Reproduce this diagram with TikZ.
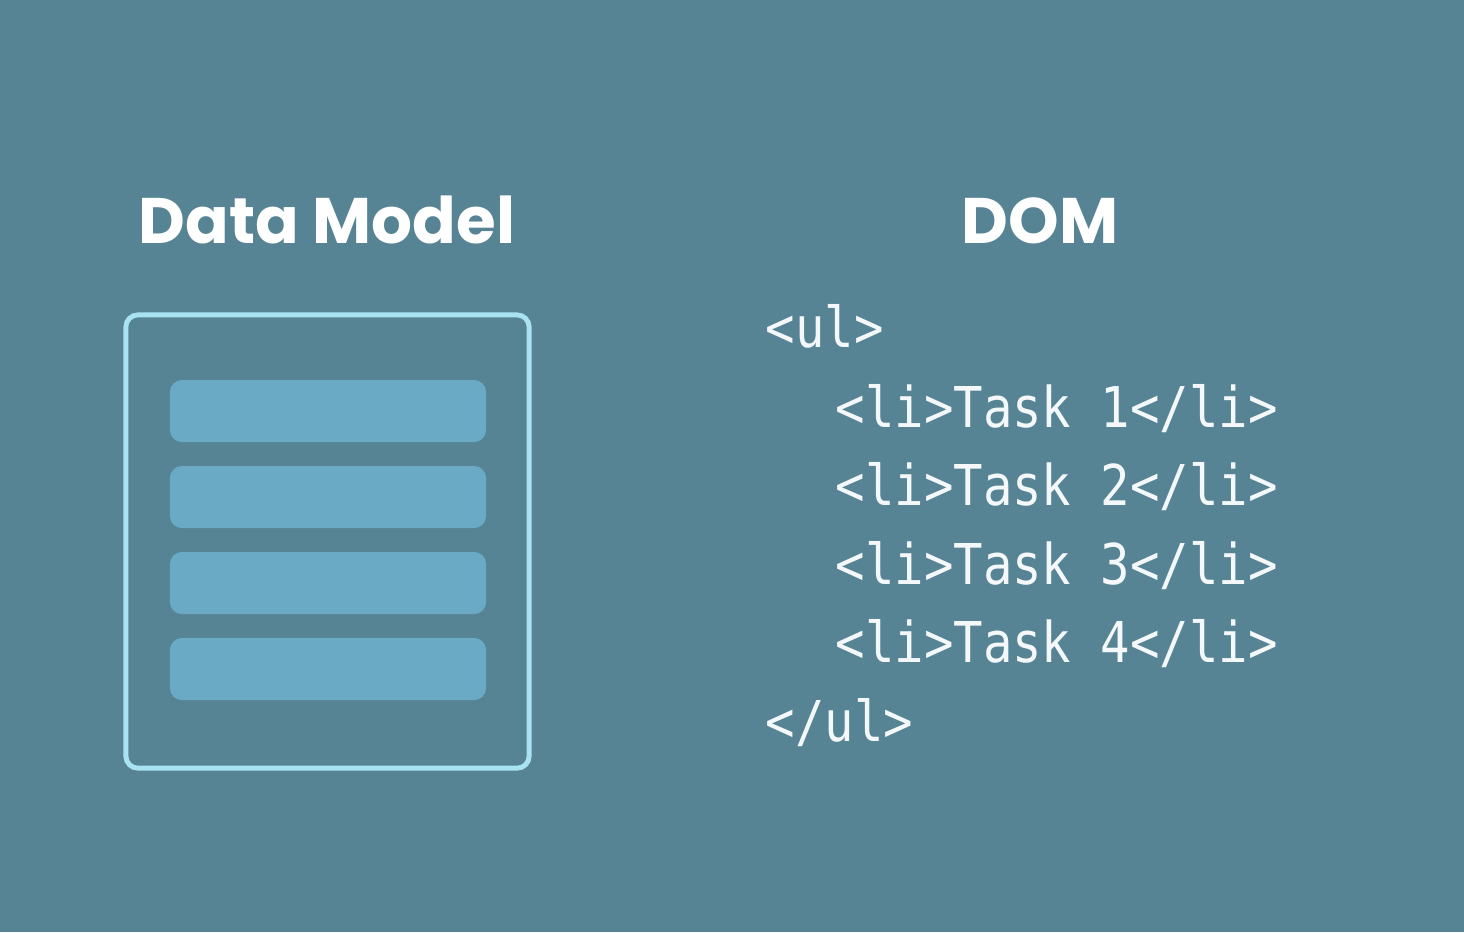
\documentclass[tikz,border=0pt]{standalone}
\usepackage{fontspec}
\newfontfamily\titlefont{Poppins}
\newfontfamily\codefont[FakeStretch=0.87]{DejaVu Sans Mono}
\usetikzlibrary{positioning}
\definecolor{bgteal}{HTML}{568494}
\definecolor{barblue}{HTML}{6AAAC4}
\definecolor{framecyan}{HTML}{A9E2F2}
\definecolor{codewhite}{HTML}{F4F8FA}

\begin{document}
\begin{tikzpicture}[x=0.01cm,y=-0.01cm,
		title/.style={text=white,font=\titlefont\bfseries\fontsize{18.3}{22}\selectfont,inner sep=0pt,anchor=base},
		bar/.style={fill=barblue,rounded corners=0.12cm,minimum width=3.16cm,minimum height=0.62cm,inner sep=0pt},
		codeline/.style={text=codewhite,font=\codefont\fontsize{16}{19}\selectfont,inner sep=0pt,anchor=base west}]
		% background
		\fill[bgteal] (0,0) rectangle (1464,932);
		\useasboundingbox (0,0) rectangle (1464,932);
		% headings
		\node[title] (modeltitle) at (327,243) {Data Model};
		\node[title] (domtitle) at (1040,243) {DOM};
		% data model: frame with four rows
		\node[draw=framecyan,line width=1.4pt,rounded corners=0.12cm,minimum width=4.03cm,minimum height=4.53cm,inner sep=0pt] (model) at (327.5,541.5) {};
		\foreach \i in {1,...,4}{
			\node[bar] (bar\i) at (328,{411+86*(\i-1)}) {};
		}
		% dom markup
		\node[codeline] (ulopen) at (765,347) {<ul>};
		\foreach \i in {1,...,4}{
			\node[codeline] (task\i) at (835,{427+78.5*(\i-1)}) {<li>Task \i</li>};
		}
		\node[codeline] (ulclose) at (765,741) {</ul>};
	\end{tikzpicture}
\end{document}
